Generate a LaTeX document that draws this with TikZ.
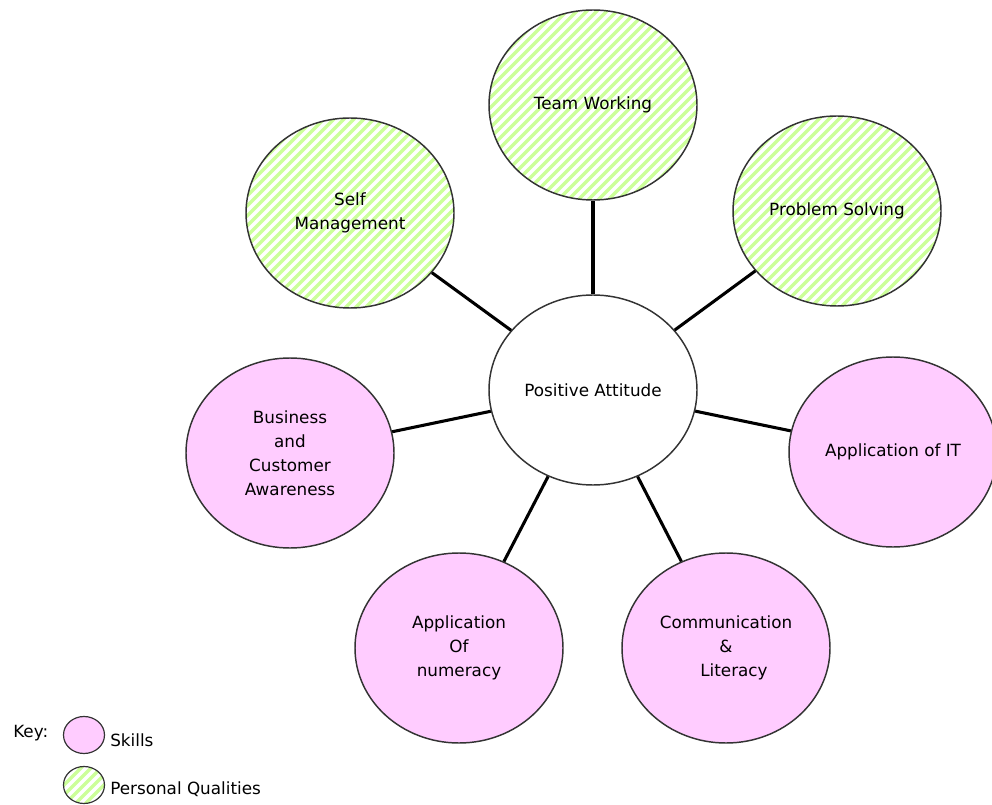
\documentclass[tikz,border=0pt]{standalone}
\usepackage{fontspec}
\setmainfont{DejaVu Sans}
\usetikzlibrary{shapes.geometric,calc}
\definecolor{pinkfill}{HTML}{FFCCFF}
\definecolor{stripegreen}{HTML}{CCFF99}
\begin{document}
\begin{tikzpicture}[x=0.75pt,y=-0.75pt,
  bubble/.style={ellipse, draw=black!80, line width=1.1pt, inner sep=0pt,
    minimum width=156pt, minimum height=142.5pt, align=center,
    font=\fontsize{12.6}{18}\selectfont},
  skill/.style={bubble, fill=pinkfill},
  quality/.style={bubble, fill=white,
    path picture={\foreach \i in {-21,...,21}{\draw[stripegreen, line width=2.5pt]
      ($(path picture bounding box.center)+(\i*7.5pt-85pt,-85pt)$) -- ++(170pt,170pt);}}},
  keybubble/.style={minimum width=30.75pt, minimum height=27.75pt, line width=0.9pt},
  conn/.style={line width=2.3pt, black},
  keytext/.style={font=\fontsize{12.6}{18}\selectfont, anchor=west, inner sep=0pt}
]
\useasboundingbox (0,0) rectangle (992,805);

% central node
\node[bubble, fill=white] (pa) at (593,390) {Positive Attitude};

% personal qualities
\node[quality] (tw) at (593,105) {Team Working};
\node[quality] (sm) at (350,213) {Self\\Management};
\node[quality] (ps) at (837,211) {Problem Solving};

% skills
\node[skill] (bca) at (290,453) {Business\\and\\Customer\\Awareness};
\node[skill] (ait) at (893,452) {Application of IT};
\node[skill] (aon) at (459,648) {Application\\Of\\numeracy};
\node[skill] (cl) at (726,648) {Communication\\\&\\\hspace*{12pt}Literacy};

% connectors
\foreach \n in {tw,sm,ps,bca,ait,aon,cl}{\draw[conn] (pa) -- (\n);}

% key
\node[keytext] (key) at (13,733) {Key:};
\node[skill, keybubble] (ks) at (84,735) {};
\node[keytext] (kst) at (110,740) {Skills};
\node[quality, keybubble] (kq) at (84,785) {};
\node[keytext] (kqt) at (110,789) {Personal Qualities};
\end{tikzpicture}
\end{document}
